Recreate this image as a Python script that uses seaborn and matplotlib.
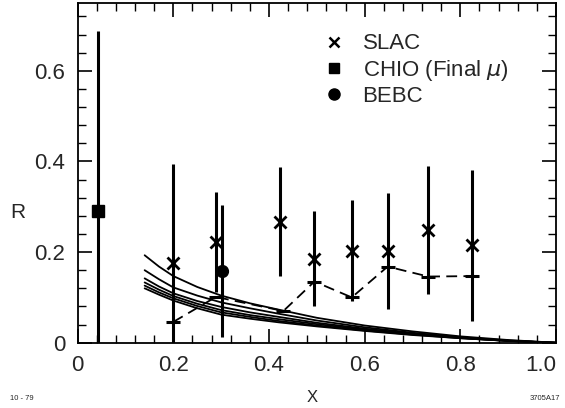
import numpy as np
import pandas as pd
import seaborn as sns
import matplotlib.pyplot as plt
from matplotlib.lines import Line2D
from matplotlib.ticker import MultipleLocator

# SLAC points (x markers) with symmetric errors
slac_x = [0.200, 0.289, 0.423, 0.495, 0.573, 0.648, 0.733, 0.825]
slac_r = [0.175, 0.222, 0.267, 0.185, 0.203, 0.203, 0.249, 0.215]
slac_err = [0.220, 0.110, 0.120, 0.105, 0.112, 0.128, 0.142, 0.166]

# dashed series
dash_x = [0.200, 0.289, 0.430, 0.495, 0.573, 0.648, 0.733, 0.825]
dash_r = [0.046, 0.101, 0.070, 0.135, 0.100, 0.168, 0.146, 0.147]

# CHIO and BEBC
chio_x, chio_r, chio_err = [0.043], [0.290], [0.398]
bebc_x, bebc_r, bebc_err = [0.302], [0.158], [0.145]

# theory curves
curve_x = [0.14, 0.17, 0.20, 0.25, 0.30, 0.36, 0.42, 0.50, 0.60, 0.70, 0.80, 0.90, 1.00]
curve_1 = [0.193, 0.168, 0.147, 0.123, 0.104, 0.087, 0.073, 0.055, 0.038, 0.025, 0.014, 0.006, 0.0]
curve_2 = [0.160, 0.140, 0.122, 0.104, 0.089, 0.076, 0.064, 0.049, 0.034, 0.022, 0.012, 0.005, 0.0]
curve_3 = [0.142, 0.124, 0.109, 0.092, 0.079, 0.067, 0.057, 0.044, 0.031, 0.020, 0.011, 0.004, 0.0]
curve_4 = [0.133, 0.117, 0.103, 0.086, 0.072, 0.061, 0.052, 0.041, 0.029, 0.019, 0.011, 0.004, 0.0]
curve_5 = [0.126, 0.111, 0.098, 0.081, 0.067, 0.057, 0.048, 0.038, 0.027, 0.018, 0.010, 0.004, 0.0]
curve_6 = [0.120, 0.106, 0.093, 0.076, 0.062, 0.053, 0.045, 0.036, 0.026, 0.017, 0.010, 0.004, 0.0]

x_ticks = [0.0, 0.2, 0.4, 0.6, 0.8, 1.0]
x_ticklabels = ["0", "0.2", "0.4", "0.6", "0.8", "1.0"]
y_ticks = [0.0, 0.2, 0.4, 0.6]
y_ticklabels = ["0", "0.2", "0.4", "0.6"]

sns.set_style("ticks")
plt.rcParams['font.family'] = ['Liberation Sans', 'DejaVu Sans']

fig = plt.figure(figsize=(5.65, 4.08), dpi=100)
ax = fig.add_axes([0.1375, 0.160, 0.8466, 0.832])

curves = pd.concat([
    pd.DataFrame({'x': curve_x, 'R': c, 'curve': i})
    for i, c in enumerate([curve_1, curve_2, curve_3, curve_4, curve_5, curve_6])
])
sns.lineplot(data=curves, x='x', y='R', units='curve', estimator=None,
             color='black', lw=1.3, ax=ax, legend=False)

# dashed line, with short horizontal bars at the points
sns.lineplot(x=dash_x, y=dash_r, color='black', lw=1.3, ax=ax,
             linestyle=(0, (6, 3.5)))
ax.plot(dash_x, dash_r, ls='', marker='_', color='black', ms=10, mew=2.2)

ax.errorbar(slac_x, slac_r, yerr=slac_err, fmt='x', color='black',
            ms=8, mew=2, elinewidth=2.2, capsize=0)
ax.errorbar(chio_x, chio_r, yerr=chio_err, fmt='s', color='black',
            ms=8, elinewidth=2.2, capsize=0)
ax.errorbar(bebc_x, bebc_r, yerr=bebc_err, fmt='o', color='black',
            ms=8.5, elinewidth=2.2, capsize=0)

ax.set_xlim(0, 1.0)
ax.set_ylim(0, 0.749)
ax.set_xticks(x_ticks)
ax.set_xticklabels(x_ticklabels)
ax.set_yticks(y_ticks)
ax.set_yticklabels(y_ticklabels)
ax.xaxis.set_minor_locator(MultipleLocator(0.04))
ax.yaxis.set_minor_locator(MultipleLocator(0.04))
ax.tick_params(which='both', direction='in', top=True, right=True, color='black')
ax.tick_params(which='major', length=10, width=1.2, labelsize=16, pad=9)
ax.tick_params(which='minor', length=6, width=1.0)
ax.get_xticklabels()[-1].set_horizontalalignment('right')
for s in ax.spines.values():
    s.set_linewidth(1.3)
    s.set_color('black')

ax.set_xlabel('')
ax.set_ylabel('')
fig.text(18 / 565, 1 - 212 / 408, 'R', fontsize=15, ha='center', va='center')
fig.text(312 / 565, 1 - 397 / 408, 'X', fontsize=12, ha='center', va='center')
fig.text(10 / 565, 1 - 399 / 408, '10 - 79', fontsize=5.5, ha='left', va='center')
fig.text(560 / 565, 1 - 399 / 408, '3705A17', fontsize=5.5, ha='right', va='center')

handles = [
    Line2D([], [], marker='x', ls='', color='black', ms=7, mew=1.8),
    Line2D([], [], marker='s', ls='', color='black', ms=7),
    Line2D([], [], marker='o', ls='', color='black', ms=8),
]
ax.legend(handles, ['SLAC', r'CHIO (Final $\mu$)', 'BEBC'], loc='upper left',
          bbox_to_anchor=(0.47, 0.97), frameon=False, fontsize=16,
          handlelength=1.0, handletextpad=0.8, labelspacing=0.15)

plt.savefig('out.png', dpi=100)
plt.close()
